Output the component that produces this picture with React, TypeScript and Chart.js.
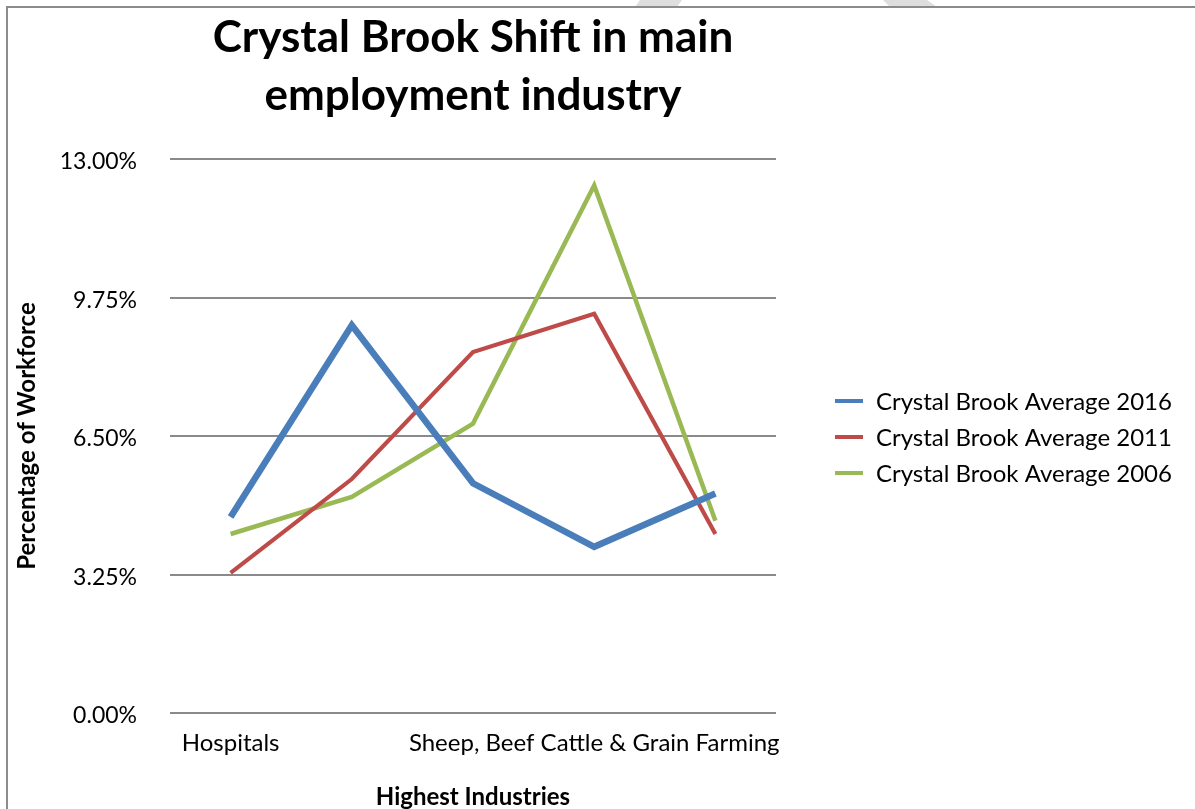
import React, { useEffect, useRef } from "react";
import { Chart, registerables } from "chart.js";

Chart.register(...registerables);

// ---- data ----
const categories = ["Hospitals", "", "", "Sheep, Beef Cattle & Grain Farming", ""];
const seriesLabels = [
  "Crystal Brook Average 2016",
  "Crystal Brook Average 2011",
  "Crystal Brook Average 2006",
];
const avg2016 = [4.6, 9.1, 5.39, 3.9, 5.15];
const avg2011 = [3.29, 5.49, 8.47, 9.37, 4.2];
const avg2006 = [4.2, 5.07, 6.79, 12.38, 4.51];
const yTickValues = [0, 3.25, 6.5, 9.75, 13];
const titleLines = ["Crystal Brook Shift in main", "employment industry"];
const yAxisTitle = "Percentage of Workforce";
const xAxisTitle = "Highest Industries";

const seriesColors = ["#4A7EBB", "#BE4B48", "#98B954"];
const seriesWidths = [6.5, 4.2, 4.5];

const W = 1195;
const H = 809;
const FONT = "Lato";
const PLOT_RIGHT = 776;

// legend drawn to the right of the plot area, from the chart's datasets
const legendPlugin = {
  id: "sideLegend",
  afterDraw(chart: any) {
    const { ctx, chartArea } = chart;
    const ds = chart.data.datasets;
    const rowGap = 36;
    const x0 = chartArea.right + 59;
    const lineLen = 28;
    const textX = x0 + lineLen + 13;
    const midY = (chartArea.top + chartArea.bottom) / 2 + 1;
    const startY = midY - ((ds.length - 1) * rowGap) / 2;
    ctx.save();
    ctx.font = `24px ${FONT}`;
    ctx.textBaseline = "middle";
    ctx.textAlign = "left";
    ds.forEach((d: any, i: number) => {
      const y = startY + i * rowGap;
      ctx.strokeStyle = d.borderColor;
      ctx.lineWidth = 4;
      ctx.lineCap = "butt";
      ctx.beginPath();
      ctx.moveTo(x0, y);
      ctx.lineTo(x0 + lineLen, y);
      ctx.stroke();
      ctx.fillStyle = "#000";
      ctx.fillText(d.label, textX, y + 1);
    });
    ctx.restore();
  },
};

export default function App() {
  const ref = useRef<HTMLCanvasElement | null>(null);

  useEffect(() => {
    const canvas = ref.current;
    if (!canvas) return;
    const series = [avg2016, avg2011, avg2006];
    const chart = new Chart(canvas, {
      type: "line",
      data: {
        labels: categories,
        datasets: series.map((d, i) => ({
          label: seriesLabels[i],
          data: d,
          borderColor: seriesColors[i],
          backgroundColor: seriesColors[i],
          borderWidth: seriesWidths[i],
          pointRadius: 0,
          pointHoverRadius: 0,
          tension: 0,
          fill: false,
        })),
      },
      plugins: [legendPlugin],
      options: {
        responsive: false,
        animation: false,
        layout: { padding: { left: 0, top: 0, bottom: 0, right: W - PLOT_RIGHT } },
        font: { family: FONT },
        plugins: {
          tooltip: { enabled: false },
          legend: { display: false },
          title: {
            display: true,
            text: titleLines,
            fullSize: false,
            color: "#000",
            font: { family: FONT, size: 44, weight: "bold", lineHeight: "58px" },
            padding: { top: 9, bottom: 34 },
          },
        },
        scales: {
          x: {
            type: "category",
            offset: true,
            grid: { display: false, drawTicks: false },
            border: { display: false },
            ticks: {
              autoSkip: false,
              maxRotation: 0,
              minRotation: 0,
              padding: 16,
              color: "#000",
              font: { family: FONT, size: 24 },
            },
            title: {
              display: true,
              text: xAxisTitle,
              color: "#000",
              font: { family: FONT, size: 24, weight: "bold", lineHeight: 1 },
              padding: { top: 0, bottom: 0 },
            },
            afterFit: (s: any) => {
              s.height = 96;
            },
          },
          y: {
            type: "linear",
            position: "left",
            min: 0,
            max: 13,
            grid: { color: "#8a8a8a", lineWidth: 2, drawTicks: false },
            border: { display: false },
            afterBuildTicks: (s: any) => {
              s.ticks = yTickValues.map((v) => ({ value: v }));
            },
            ticks: {
              padding: 33,
              labelOffset: 3,
              color: "#000",
              font: { family: FONT, size: 23 },
              callback: (v: any) => Number(v).toFixed(2) + "%",
            },
            title: {
              display: true,
              text: yAxisTitle,
              color: "#000",
              font: { family: FONT, size: 24, weight: "bold", lineHeight: 1.2 },
              padding: { top: 13, bottom: 0 },
            },
            afterFit: (s: any) => {
              s.width = 170;
            },
          },
        },
      },
    });
    return () => chart.destroy();
  }, []);

  return (
    <div style={{ position: "fixed", left: 0, top: 0, width: W, height: H, background: "#fff", overflow: "hidden" }}>
      <canvas ref={ref} width={W} height={H} style={{ position: "absolute", left: 0, top: 0, width: W, height: H }} />
      <div
        style={{
          position: "absolute",
          left: 0,
          top: 0,
          width: W,
          height: 8,
          background: "#dedede",
          clipPath: "polygon(640px 0, 682px 0, 677px 7px, 635px 7px)",
        }}
      />
      <div
        style={{
          position: "absolute",
          left: 0,
          top: 0,
          width: W,
          height: 8,
          background: "#dedede",
          clipPath: "polygon(883px 0, 927px 0, 937px 7px, 890px 7px)",
        }}
      />
      <div
        style={{
          position: "absolute",
          left: 6,
          top: 6,
          width: 1400,
          height: 1000,
          borderLeft: "2px solid #8c8c8c",
          borderTop: "2px solid #8c8c8c",
          pointerEvents: "none",
        }}
      />
    </div>
  );
}
